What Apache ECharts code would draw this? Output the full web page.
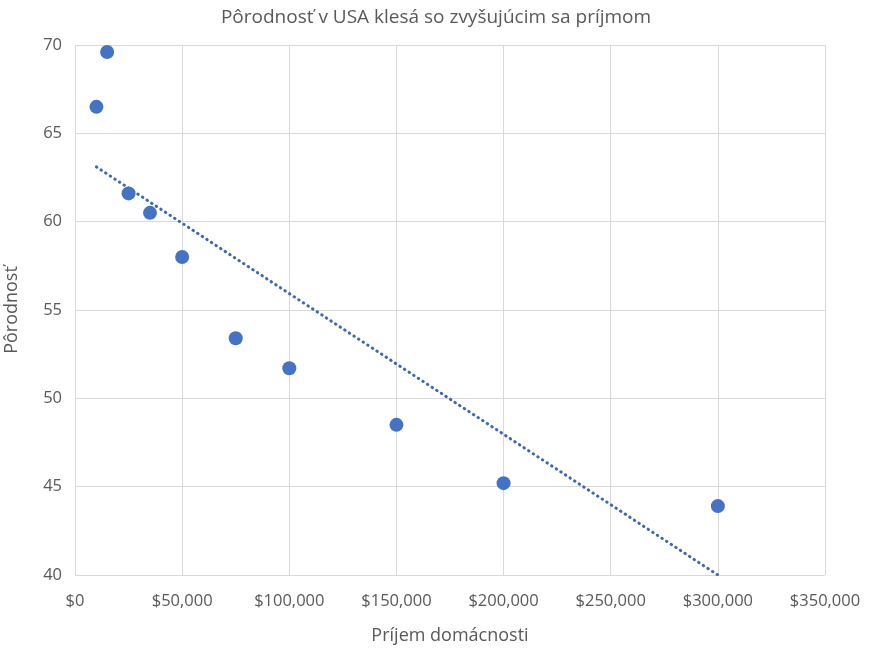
<!DOCTYPE html>
<html><head><meta charset="utf-8">
<script src="https://cdn.jsdelivr.net/npm/echarts@6/dist/echarts.min.js"></script>
<style>html,body{margin:0;padding:0;background:#fff}#c{width:872px;height:650px}</style>
</head><body><div id="c"></div>
<script>
const incomes = [10000, 15000, 25000, 35000, 50000, 75000, 100000, 150000, 200000, 300000];
const fertility = [66.5, 69.6, 61.6, 60.5, 58.0, 53.4, 51.7, 48.5, 45.2, 43.9];
const trendX = [10000, 300000];
const trendY = [63.1, 40.0];
const title = 'Pôrodnosť v USA klesá so zvyšujúcim sa príjmom';
const xName = 'Príjem domácnosti';
const yName = 'Pôrodnosť';
const FONT = '"Open Sans", sans-serif';
const chart = echarts.init(document.getElementById('c'));
chart.setOption({
  animation: false,
  textStyle: {fontFamily: FONT},
  title: {text: title, left: 'center', top: 3, textStyle: {fontFamily: FONT, fontSize: 19, fontWeight: 'normal', color: '#595959'}},
  grid: {left: 75, right: 47, top: 45, bottom: 75, containLabel: false, outerBoundsMode: 'none'},
  xAxis: {type: 'value', min: 0, max: 350000, interval: 50000,
    name: xName, nameLocation: 'middle', nameGap: 52,
    nameTextStyle: {fontFamily: FONT, fontSize: 18, color: '#595959'},
    axisLine: {show: false}, axisTick: {show: false},
    axisLabel: {fontFamily: FONT, fontSize: 16.5, color: '#595959', margin: 18,
      formatter: v => '$' + v.toLocaleString('en-US')},
    splitLine: {lineStyle: {color: '#d9d9d9', width: 1}}},
  yAxis: {type: 'value', min: 40, max: 70, interval: 5,
    name: yName, nameLocation: 'middle', nameGap: 54,
    nameTextStyle: {fontFamily: FONT, fontSize: 18, color: '#595959'},
    axisLine: {show: false}, axisTick: {show: false},
    axisLabel: {fontFamily: FONT, fontSize: 16.5, color: '#595959', margin: 13},
    splitLine: {lineStyle: {color: '#d9d9d9', width: 1}}},
  series: [
    {type: 'line', data: trendX.map((x, i) => [x, trendY[i]]), showSymbol: false, symbol: 'none',
     lineStyle: {color: '#4068b0', width: 3, type: [0.5, 5], cap: 'round'}, z: 1},
    {type: 'scatter', data: incomes.map((x, i) => [x, fertility[i]]), symbolSize: 14,
     itemStyle: {color: '#4472C4', opacity: 1}, z: 2}
  ]
});
</script></body></html>
